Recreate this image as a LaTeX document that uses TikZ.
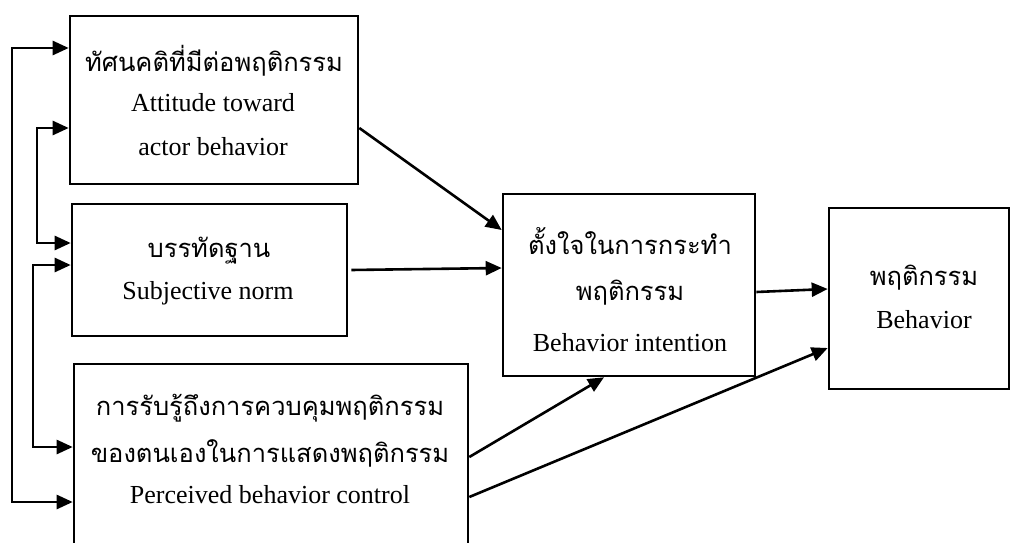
\documentclass[tikz,border=0pt]{standalone}
\usepackage{fontspec}
\setmainfont{Liberation Serif}
\newfontfamily\thaifont[Script=Thai]{Loma}
\usetikzlibrary{arrows.meta}

\begin{document}
\begin{tikzpicture}[x=1pt,y=1pt,
  box/.style={draw, line width=2.6pt, inner sep=0pt},
  en/.style={font=\fontsize{26}{30}\selectfont, inner sep=0pt, anchor=center},
  th/.style={font=\thaifont\fontsize{25.5}{29}\selectfont, inner sep=0pt, anchor=center},
  link/.style={line width=2.6pt, -{Triangle[length=16pt,width=14pt]}},
  twoway/.style={line width=2.6pt, {Triangle[length=16pt,width=14pt]}-{Triangle[length=16pt,width=14pt]}}]
\useasboundingbox (0,0) rectangle (1011,542);

% boxes
\node[box, minimum width=288pt, minimum height=168pt] (A) at (214,442) {};
\node[box, minimum width=275pt, minimum height=132pt] (B) at (209.5,272) {};
\node[box, minimum width=394pt, minimum height=181pt] (C) at (271,87.5) {};
\node[box, minimum width=252pt, minimum height=182pt] (D) at (629,257) {};
\node[box, minimum width=180pt, minimum height=181pt] (E) at (919,243.5) {};

% labels
\node[th] (A1) at (214,481) {ทัศนคติที่มีต่อพฤติกรรม};
\node[en] (A2) at (213,439) {Attitude toward};
\node[en] (A3) at (213,395) {actor behavior};

\node[th] (B1) at (209,291) {บรรทัดฐาน};
\node[en] (B2) at (208,249) {Subjective norm};

\node[th] (C1) at (270,134) {การรับรู้ถึงการควบคุมพฤติกรรม};
\node[th] (C2) at (270,89) {ของตนเองในการแสดงพฤติกรรม};
\node[en] (C3) at (270,47) {Perceived behavior control};

\node[th] (D1) at (630,301) {ตั้งใจในการกระทำ};
\node[th] (D2) at (630,249) {พฤติกรรม};
\node[en] (D3) at (630,199) {Behavior intention};

\node[th] (E1) at (924,264) {พฤติกรรม};
\node[en] (E2) at (924,222) {Behavior};

% paths into the intention and behavior boxes
\draw[link] ([yshift=-28pt]A.east) -- ([yshift=55pt]D.west);
\draw[link] ([xshift=3pt]B.east) -- ([yshift=17pt]D.west);
\draw[link] ([yshift=-7pt]D.east) -- ([yshift=9.5pt]E.west);
\draw[link] ([yshift=-2.5pt]C.east) -- ([xshift=-25pt]D.south);
\draw[link] ([yshift=-42.5pt]C.east) -- ([yshift=-49.5pt]E.west);

% correlation lines on the left
\coordinate (xo) at (12,0);
\coordinate (xm) at (37,0);
\coordinate (xn) at (33,0);
\coordinate (a1) at ([yshift=52pt]A.west);
\coordinate (c2) at ([yshift=-47.5pt]C.west);
\coordinate (a2) at ([yshift=-28pt]A.west);
\coordinate (b1) at ([yshift=27pt]B.west);
\coordinate (b2) at ([yshift=5pt]B.west);
\coordinate (c1) at ([yshift=7.5pt]C.west);
\draw[twoway] (a1) -- (a1 -| xo) -- (c2 -| xo) -- (c2);
\draw[twoway] (a2) -- (a2 -| xm) -- (b1 -| xm) -- (b1);
\draw[twoway] (b2) -- (b2 -| xn) -- (c1 -| xn) -- (c1);
\end{tikzpicture}
\end{document}
